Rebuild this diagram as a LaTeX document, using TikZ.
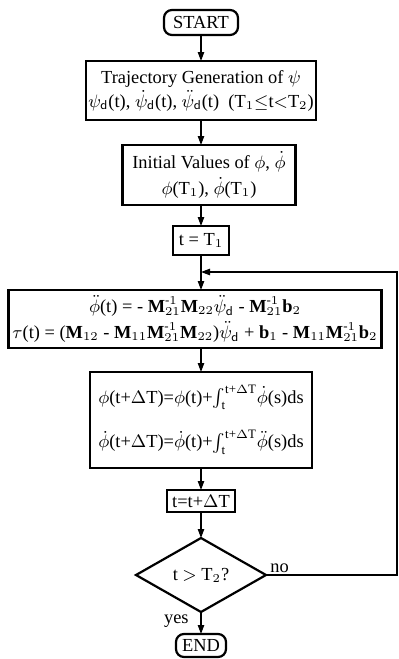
\documentclass[tikz,border=0pt]{standalone}
\usepackage{amsmath}
\usepackage{fontspec}
\setmainfont{Liberation Serif}
\usepackage{tikz}
\usetikzlibrary{arrows.meta}
\usetikzlibrary{positioning}
\usetikzlibrary{shapes.geometric}
\newcommand\Mb[1]{\mathbf{M}_{#1}}
\newcommand\Minv{\mathbf{M}_{21}^{\text{-}1}}
\newcommand\smallFont{\fontsize{9.2}{11}\selectfont}
\tikzset{
	procBox/.style={rectangle, draw=black, line width=1.1pt, inner sep=1pt, outer sep=0pt, align=center, font=\smallFont},
	termBox/.style={rectangle, rounded corners=4pt, draw=black, line width=1.1pt, inner sep=1pt, outer sep=0pt, font=\smallFont},
	decBox/.style={diamond, draw=black, line width=1.1pt, inner sep=0pt, outer sep=0pt, aspect=1.76, font=\smallFont},
}

\begin{document}
\begin{tikzpicture} [x=0.5pt, y=-0.5pt,
		flow/.style={line width=0.6pt, -{Triangle[length=4.5pt,width=3.2pt]}},
		tag/.style={inner sep=1pt, font=\smallFont},
		node distance = 12pt and 12pt]
		
		% frame of the picture (pixel units)
		\useasboundingbox (0,0) rectangle (398,659);
		
		% create start node - used as relative position start point
		\node[termBox, minimum width=37pt, minimum height=12.5pt] (start) at (201,22.5) {START};
		
		% process boxes stacked down the axis
		\node[procBox, below = 13pt of start, minimum width=113.5pt, minimum height=29.5pt] (traj)
			{Trajectory Generation of $\psi$\\[1pt]
			 $\psi_{\mathsf{d}}$(t), $\dot\psi_{\mathsf{d}}$(t), $\ddot\psi_{\mathsf{d}}$(t)\ \ (T$_1$$\leq$t$<$T$_2$)};
		\node[procBox, below = 12.5pt of traj, xshift=4pt, minimum width=86.5pt, minimum height=30pt] (init)
			{Initial Values of $\phi$, $\dot\phi$\\[2pt]
			 $\phi$(T$_1$), $\dot\phi$(T$_1$)};
		\node[procBox, below = 10.5pt of traj.south |- init.south, minimum width=28pt, minimum height=14.5pt] (tT1)
			{t = T$_1$};
		
		% loop entry point below t = T1
		\coordinate[below = 8.5pt of tT1] (loopIn);
		
		% dynamics box (shifted a little left)
		\node[procBox, below = 17.5pt of tT1, xshift=-3pt, minimum width=186.5pt, minimum height=29pt] (big)
			{$\ddot\phi$(t) = - $\Minv\Mb{22}\ddot\psi_{\mathsf{d}}$ - $\Minv\mathbf{b}_2$\\[2pt]
			 $\tau$(t) = ($\Mb{12}$ - $\Mb{11}\Minv\Mb{22}$)$\ddot\psi_{\mathsf{d}}$ + $\mathbf{b}_1$ - $\Mb{11}\Minv\mathbf{b}_2$};
		
		% integration box
		\node[procBox, below = 12pt of tT1 |- big.south, minimum width=111pt, minimum height=48pt] (integ)
			{$\phi$(t+$\Delta$T)=$\phi$(t)+$\int_{\text{t}}^{\text{t+}\Delta\text{T}}\!\dot\phi$(s)ds\\[9pt]
			 $\dot\phi$(t+$\Delta$T)=$\dot\phi$(t)+$\int_{\text{t}}^{\text{t+}\Delta\text{T}}\!\ddot\phi$(s)ds};
		\node[procBox, below = 11pt of integ, minimum width=34pt, minimum height=11pt] (tdt)
			{t=t+$\Delta$T};
		
		% decision and end
		\node[decBox, below = 13pt of tdt, minimum width=65pt, minimum height=37pt] (dec)
			{t $>$ T$_2$?};
		\node[termBox, below = 11pt of dec, minimum width=25pt, minimum height=11.5pt] (stop) {END};
		
		% branch labels
		\node[tag, above right = 0pt and 1pt of dec.east] (noLbl) {no};
		\node[tag, below left = 0pt and 5pt of dec.south] (yesLbl) {yes};
		
		% right edge of the return line
		\coordinate (loopX) at (397,0);
		
		% Draw main flow arrows
		\foreach \a/\b in {start/traj, traj/init, init/tT1, integ/tdt, tdt/dec, dec/stop}
		{
			\draw[flow] (\a.south -| tT1) -- (\b.north -| tT1);
		}
		\draw[flow] (tT1.south) -- (big.north -| tT1); % through the loop entry
		\draw[flow] (big.south -| tT1) -- (integ.north); % dynamics to integration
		
		% return line (no branch)
		\draw[flow] (dec.east) -- (dec.east -| loopX) -- (loopX |- loopIn) -- (loopIn);
		
	\end{tikzpicture}
\end{document}
